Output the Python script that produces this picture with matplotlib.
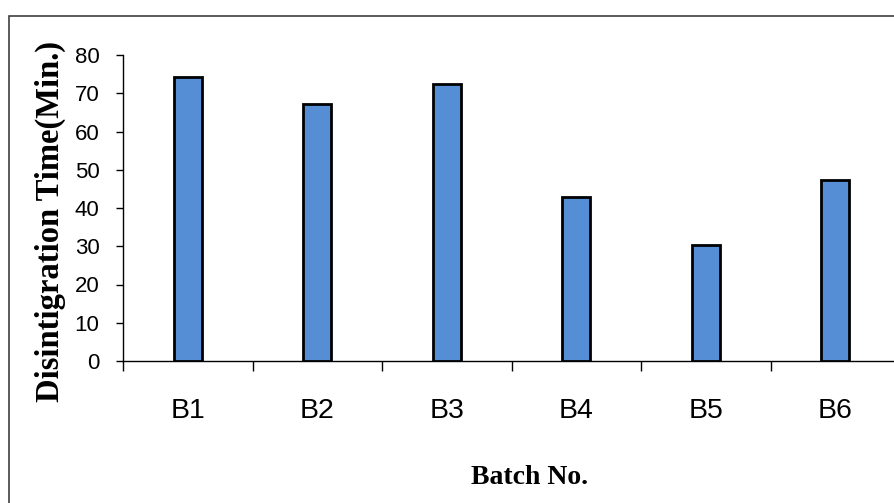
import numpy as np
import matplotlib
matplotlib.use("Agg")
import matplotlib.pyplot as plt
from matplotlib.patches import Rectangle

# data
batches = ["B1", "B2", "B3", "B4", "B5", "B6"]
dt_minutes = [74.2, 67.3, 72.5, 43.0, 30.3, 47.3]
y_ticks = [0, 10, 20, 30, 40, 50, 60, 70, 80]

W, H = 894, 503
fig = plt.figure(figsize=(W / 100, H / 100), dpi=100)

# outer frame (runs off the right/bottom edge like the original)
fig.patches.append(Rectangle((9 / W, -0.2), 1.2, 1.2 - 16 / H,
                             transform=fig.transFigure, fill=False,
                             edgecolor="#404040", linewidth=1.2))

ax = fig.add_axes([123 / W, 1 - 361 / H, (900 - 123) / W, (361 - 55) / H])

x = np.arange(len(batches))
ax.bar(x, dt_minutes, width=0.22, color="#558ed5", edgecolor="black",
       linewidth=2.0, zorder=3)

ax.set_xlim(-0.5, len(batches) - 0.5)
ax.set_ylim(0, 80)
ax.set_yticks(y_ticks)

ax.spines["top"].set_visible(False)
ax.spines["right"].set_visible(False)
ax.spines["left"].set_linewidth(1.0)
ax.spines["bottom"].set_linewidth(1.0)

sans = ["Liberation Sans", "DejaVu Sans"]
ax.set_xticks(x)
ax.set_xticklabels(batches, fontsize=20.5, family=sans)
ax.set_xticks(np.arange(-0.5, len(batches) + 0.5, 1.0), minor=True)
ax.tick_params(axis="x", which="major", length=0, pad=27)
ax.tick_params(axis="x", which="minor", length=7.5, width=1.0, direction="out")
ax.tick_params(axis="y", length=5, width=1.0, direction="out", pad=12)
for lab in ax.get_yticklabels():
    lab.set_fontsize(16)
    lab.set_family(sans)

serif = ["Liberation Serif", "DejaVu Serif"]
fig.text(530 / W, 1 - 477 / H, "Batch No.", ha="center", va="center",
         fontsize=20, fontweight="bold", family=serif)
fig.text(50 / W, 1 - 221 / H, "Disintigration Time(Min.)", ha="center",
         va="center", rotation=90, fontsize=23.5, fontweight="bold",
         family=serif)

fig.savefig("out.png", dpi=100)
